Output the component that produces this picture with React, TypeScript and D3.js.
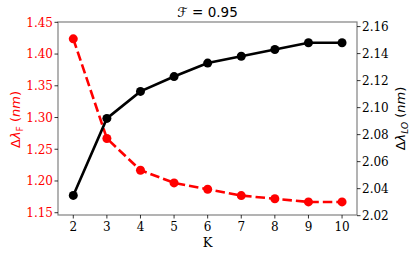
import React from "react";
import * as d3 from "d3";

const K = [2, 3, 4, 5, 6, 7, 8, 9, 10];
const dLambdaF = [1.424, 1.267, 1.217, 1.197, 1.187, 1.177, 1.172, 1.167, 1.167];
const dLambdaLO = [2.035, 2.092, 2.112, 2.123, 2.133, 2.138, 2.143, 2.148, 2.148];
const leftTicks = [1.15, 1.2, 1.25, 1.3, 1.35, 1.4, 1.45];
const rightTicks = [2.02, 2.04, 2.06, 2.08, 2.1, 2.12, 2.14, 2.16];

export default function App() {
  const W = 415, H = 259;
  const L = 58, R = 357, T = 22, B = 215;
  const x = d3.scaleLinear().domain([1.545, 10.445]).range([L, R]);
  const yL = d3.scaleLinear().domain([1.1464, 1.4505]).range([B, T]);
  const yR = d3.scaleLinear().domain([2.0205, 2.1634]).range([B, T]);
  const pts = K.map((k, i) => ({ k, f: dLambdaF[i], lo: dLambdaLO[i] }));
  const redLine = d3.line<any>().x(d => x(d.k)).y(d => yL(d.f))(pts) || "";
  const blackLine = d3.line<any>().x(d => x(d.k)).y(d => yR(d.lo))(pts) || "";
  const serif = "'DejaVu Serif', serif";
  const sans = "'DejaVu Sans', sans-serif";
  const frame = "#808080";
  return (
    <svg width={W} height={H} style={{ position: "absolute", left: 0, top: 0 }}>
      <rect width={W} height={H} fill="white" />
      <text x={(L + R) / 2} y={17} textAnchor="middle" fontFamily={sans} fontSize={13.5}>
        <tspan fontStyle="italic">ℱ</tspan> = 0.95
      </text>
      {/* frame */}
      <rect x={L} y={T} width={R - L} height={B - T} fill="none" stroke={frame} strokeWidth={1.2} />
      {/* x ticks */}
      {K.map(k => (
        <g key={"x" + k}>
          <line x1={x(k)} x2={x(k)} y1={B} y2={B + 3.5} stroke="black" strokeWidth={0.8} />
          <text x={x(k)} y={B + 16} textAnchor="middle" fontFamily={serif} fontSize={12}>{k}</text>
        </g>
      ))}
      <text x={(L + R) / 2} y={247} textAnchor="middle" fontFamily={serif} fontSize={13}>K</text>
      {/* left ticks */}
      {leftTicks.map(v => (
        <g key={"l" + v}>
          <line x1={L - 3.5} x2={L} y1={yL(v)} y2={yL(v)} stroke="black" strokeWidth={0.8} />
          <text x={L - 5} y={yL(v) + 4.3} textAnchor="end" fontFamily={serif} fontSize={12} fill="red">{v.toFixed(2)}</text>
        </g>
      ))}
      {/* right ticks */}
      {rightTicks.map(v => (
        <g key={"r" + v}>
          <line x1={R} x2={R + 3.5} y1={yR(v)} y2={yR(v)} stroke="black" strokeWidth={0.8} />
          <text x={R + 5} y={yR(v) + 4.3} textAnchor="start" fontFamily={serif} fontSize={12} fill="black">{v.toFixed(2)}</text>
        </g>
      ))}
      {/* left label */}
      <text transform={`translate(20,${(T + B) / 2 + 1}) rotate(-90)`} textAnchor="middle" fontFamily={sans} fontSize={13} fill="red">
        Δ<tspan fontStyle="italic">λ</tspan><tspan fontSize={9} dy={3}>F</tspan><tspan dy={-3}> (</tspan><tspan fontStyle="italic">nm</tspan>)
      </text>
      {/* right label */}
      <text transform={`translate(405,${(T + B) / 2}) rotate(-90)`} textAnchor="middle" fontFamily={sans} fontSize={13} fill="black">
        Δ<tspan fontStyle="italic">λ</tspan><tspan fontSize={9} dy={3} fontStyle="italic">LO</tspan><tspan dy={-3}> (</tspan><tspan fontStyle="italic">nm</tspan>)
      </text>
      {/* red series */}
      <path d={redLine} fill="none" stroke="red" strokeWidth={2.6} strokeDasharray="9.5,4" />
      {pts.map(p => (
        <circle key={"rc" + p.k} cx={x(p.k)} cy={yL(p.f)} r={4.5} fill="red" />
      ))}
      {/* black series */}
      <path d={blackLine} fill="none" stroke="black" strokeWidth={2.6} />
      {pts.map(p => (
        <circle key={"bc" + p.k} cx={x(p.k)} cy={yR(p.lo)} r={4.5} fill="black" />
      ))}
    </svg>
  );
}
